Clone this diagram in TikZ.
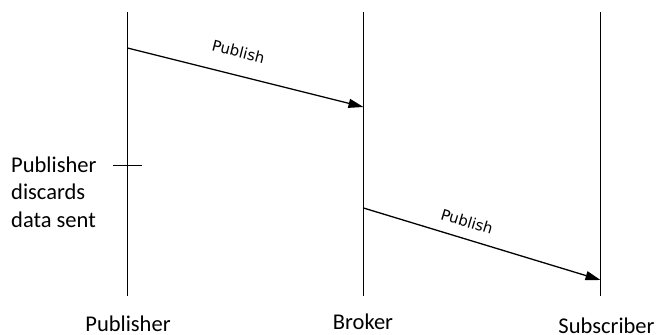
\documentclass[tikz,border=0pt]{standalone}
\usepackage{fontspec}
\setmainfont{Carlito}
\newfontfamily\msgfont{DejaVu Sans}
\usetikzlibrary{arrows.meta}
\tikzset{
  lifeline/.style={line width=1.3pt},
  msg/.style={line width=1.3pt, -{Triangle[length=15pt,width=9pt]}},
  msglabel/.style={font=\msgfont\fontsize{15}{18}\selectfont, inner sep=0pt},
  actor/.style={font=\fontsize{22.5}{27}\selectfont, inner sep=0pt},
  note/.style={font=\fontsize{22.5}{27.5}\selectfont, inner sep=0pt, align=left, anchor=west}
}
\begin{document}
\begin{tikzpicture}[x=1pt,y=-1pt]
  \useasboundingbox (0,0) rectangle (657,335);
  % lifelines
  \coordinate (pt) at (127.5,12);
  \coordinate (pb) at (127.5,296);
  \coordinate (bt) at (363.5,12);
  \coordinate (bb) at (363.5,296);
  \coordinate (st) at (600.5,12);
  \coordinate (sb) at (600.5,296);
  \draw[lifeline] (pt) -- (pb);
  \draw[lifeline] (bt) -- (bb);
  \draw[lifeline] (st) -- (sb);
  % messages
  \coordinate (m1s) at (127.5,48);
  \coordinate (m1e) at (363.5,107);
  \coordinate (m2s) at (363.5,208);
  \coordinate (m2e) at (600.5,280);
  \draw[msg] (m1s) -- (m1e);
  \draw[msg] (m2s) -- (m2e);
  \node[msglabel, rotate=-14.3] (l1) at (238.5,51.5) {Publish};
  \node[msglabel, rotate=-16.9] (l2) at (467,221.5) {Publish};
  % tick
  \coordinate (tl) at (113,165);
  \coordinate (tr) at (142,165);
  \draw[line width=1pt] (tl) -- (tr);
  \node[note] (n) at (11,192) {Publisher\\discards\\data sent};
  % actors
  \node[actor] (pa) at (128,324) {Publisher};
  \node[actor] (ba) at (363,322) {Broker};
  \node[actor] (sa) at (606.5,326) {Subscriber};
\end{tikzpicture}
\end{document}
